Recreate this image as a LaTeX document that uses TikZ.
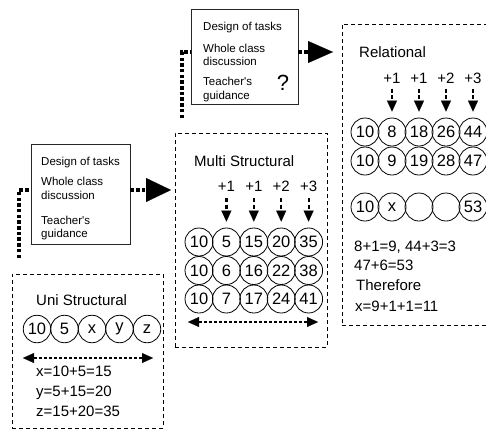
\documentclass[tikz,border=0pt]{standalone}
\usepackage{fontspec}
\setmainfont{Liberation Sans}
\usetikzlibrary{arrows.meta}

\tikzset{
  levelbox/.style={draw=black, line width=1pt, dash pattern=on 4pt off 3pt, inner sep=0pt},
  aidbox/.style={draw=black!85, line width=0.8pt, inner sep=0pt},
  num/.style={circle, draw=black, line width=0.8pt, minimum size=28pt, inner sep=0pt,
    font=\fontsize{16.5}{16.5}\selectfont},
  numsm/.style={num, minimum size=27.5pt},
  bigtext/.style={font=\fontsize{15}{18}\selectfont, inner sep=0pt, anchor=base west},
  smalltext/.style={font=\fontsize{11.5}{14}\selectfont, inner sep=0pt, anchor=base west},
  steplabel/.style={font=\fontsize{15}{18}\selectfont, inner sep=0pt, anchor=base},
  link/.style={draw=black, line width=4pt, dash pattern=on 3.5pt off 2.2pt},
  push/.style={-{Triangle[length=25pt, width=#1, line width=0.1pt]}},
  drop/.style={draw=black, line width=2.2pt, dash pattern=on 4pt off 2.5pt,
    -{Triangle[length=11pt, width=10pt, line width=0.1pt]}},
  span/.style={draw=black, line width=1.5pt, dash pattern=on 3pt off 2pt,
    {Triangle[length=11pt, width=10pt, line width=0.1pt]}-{Triangle[length=11pt, width=10pt, line width=0.1pt]}}
}

\begin{document}
\begin{tikzpicture}[x=1pt, y=-1pt]
\useasboundingbox (0,0) rectangle (486,434);
\clip (0,0) rectangle (486,434);

% ---------- teaching-aid boxes ----------
\node[aidbox, minimum width=107pt, minimum height=95pt] (topaid) at (244.5,56.5) {};
\node[aidbox, minimum width=99pt, minimum height=100pt] (leftaid) at (80.5,194) {};

\node[smalltext] (t1) at (203,30.7) {Design of tasks};
\node[smalltext] (t2) at (203,52.3) {Whole class};
\node[smalltext] (t3) at (203,65.7) {discussion};
\node[smalltext] (t4) at (203,85.3) {Teacher\textquotesingle s};
\node[smalltext] (t5) at (203,99.3) {guidance};
\node[font=\fontsize{22}{22}\selectfont, inner sep=0pt, anchor=base] (qmark) at (283,90) {?};

\node[smalltext] (l1) at (41,165.7) {Design of tasks};
\node[smalltext] (l2) at (41,185.7) {Whole class};
\node[smalltext] (l3) at (41,199) {discussion};
\node[smalltext] (l4) at (41,224) {Teacher\textquotesingle s};
\node[smalltext] (l5) at (41,237.3) {guidance};

% ---------- SOLO level boxes ----------
\node[levelbox, minimum width=151pt, minimum height=154pt] (uni) at (87.5,351) {};
\node[levelbox, minimum width=152pt, minimum height=214pt] (multi) at (251,240) {};
\node[levelbox, minimum width=150pt, minimum height=301pt] (rel) at (417,174.5) {};

% ---------- thick dotted links with big heads ----------
\coordinate (lfoot) at (19,258);
\coordinate (lknee) at (19,190);
\coordinate (ltip) at (171,190);
\draw[link] (lfoot) -- (lknee) -- (lknee -| leftaid.west);
\draw[link, push=24pt] (lknee -| leftaid.east) -- (ltip);

\coordinate (tfoot) at (182,118);
\coordinate (tknee) at (182,52);
\coordinate (ttip) at (333,52);
\draw[link] (tfoot) -- (tknee) -- (tknee -| topaid.west);
\draw[link, push=22pt] (tknee -| topaid.east) -- (ttip);

% ---------- Uni Structural ----------
\node[bigtext] (unititle) at (36,305) {Uni Structural};
\foreach \v [count=\i] in {10,5,x,y,z}
  \node[numsm] (u\i) at ({37+27.5*(\i-1)},329) {\v};
\coordinate (ua) at (23,358);
\coordinate (ub) at (153,358);
\draw[span] (ua) -- (ub);
\node[bigtext] (ue1) at (36,376.7) {x=10+5=15};
\node[bigtext] (ue2) at (36,396.5) {y=5+15=20};
\node[bigtext] (ue3) at (36,416) {z=15+20=35};

% ---------- Multi Structural ----------
\node[bigtext] (multititle) at (194,166.7) {Multi Structural};
\foreach \row/\yy [count=\r] in {{10,5,15,20,35}/242, {10,6,16,22,38}/270.5, {10,7,17,24,41}/299}
  \foreach \v [count=\i] in \row
    \node[num] (m\r\i) at ({199+27.4*(\i-1)},\yy) {\v};
\foreach \d [count=\i from 2] in {+1,+1,+2,+3} {
  \node[steplabel] (mp\i) at (m1\i |- 0,191) {\d};
  \draw[drop, shorten <=7pt, shorten >=6pt] (mp\i.south) -- (m1\i.north);
}
\coordinate (ma) at (188,322);
\coordinate (mb) at (318,322);
\draw[span] (ma) -- (mb);

% ---------- Relational ----------
\node[bigtext] (reltitle) at (359,57.3) {Relational};
\foreach \row/\yy [count=\r] in {{10,8,18,26,44}/132, {10,9,19,28,47}/161, {10,x,{},{},53}/207}
  \foreach \v [count=\i] in \row
    \node[num] (r\r\i) at ({365+27*(\i-1)},\yy) {\v};
\foreach \d [count=\i from 2] in {+1,+1,+2,+3} {
  \node[steplabel] (rp\i) at (r1\i |- 0,83.3) {\d};
  \draw[drop, shorten <=5pt, shorten >=6pt] (rp\i.south) -- (r1\i.north);
}
\node[bigtext] (re1) at (354,251) {8+1=9, 44+3=3};
\node[bigtext] (re2) at (354,270.5) {47+6=53};
\node[bigtext] (re3) at (356,290.5) {Therefore};
\node[bigtext] (re4) at (355,311) {x=9+1+1=11};
\end{tikzpicture}
\end{document}
